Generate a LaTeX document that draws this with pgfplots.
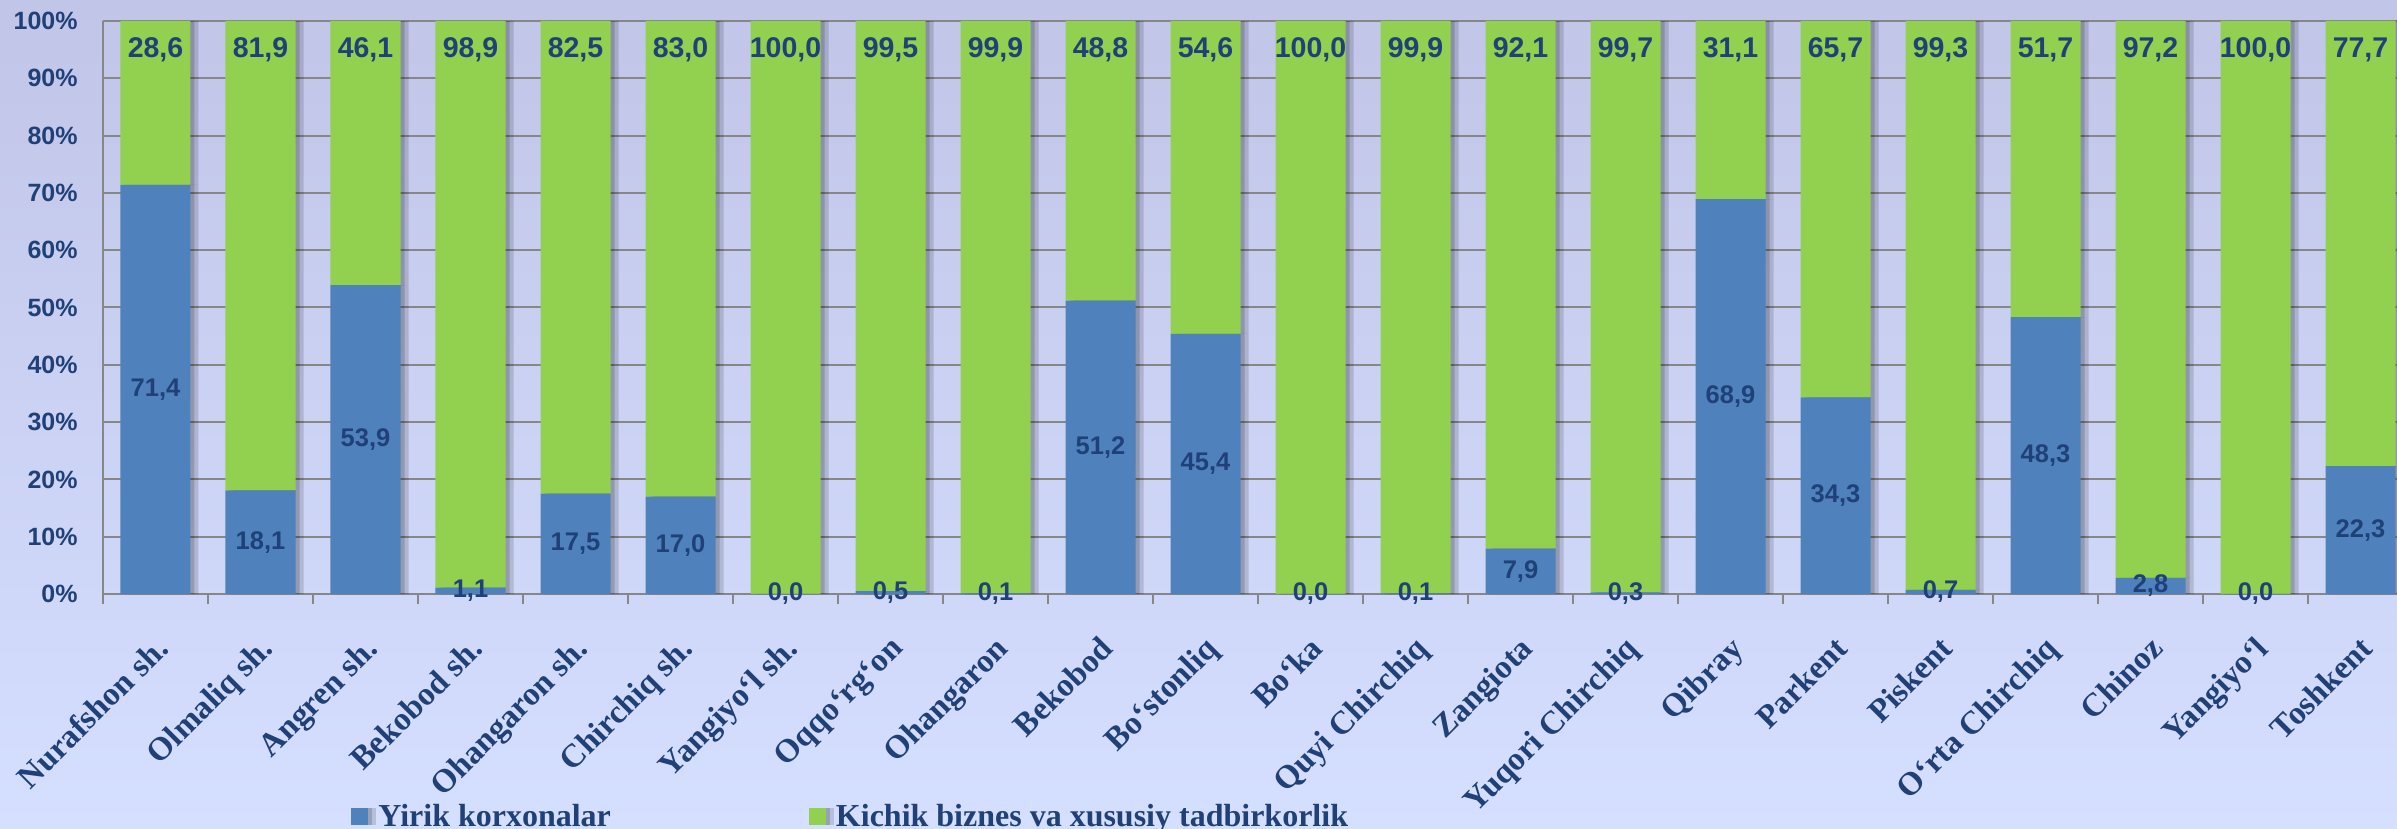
\documentclass[border=0pt]{standalone}
\usepackage{fontspec}
\setmainfont{Liberation Serif}
\newfontfamily\lsans{Liberation Sans}
\usepackage{pgfplots}
\pgfplotsset{compat=1.18}
\definecolor{barblue}{HTML}{4F81BD}
\definecolor{bargreen}{HTML}{92D050}
\definecolor{txtblue}{HTML}{1F4178}
\definecolor{gridgray}{HTML}{878787}
\definecolor{bgtop}{HTML}{C1C5E8}
\definecolor{bgbot}{HTML}{D5DFFF}

\begin{document}
\begin{tikzpicture}
\shade[top color=bgtop, bottom color=bgbot] (-51.5pt,-117.5pt) rectangle (1147pt,297pt);
\begin{axis}[
  at={(0,0)}, anchor=south west,
  scale only axis, width=1147pt, height=286.5pt,
  ybar stacked, bar width=35pt,
  xmin=-0.5, xmax=21.348, ymin=0, ymax=100,
  axis x line*=bottom, axis y line*=left,
  axis line style={gridgray, line width=1pt},
  ymajorgrids, major grid style={gridgray, line width=1pt},
  tick align=outside, major tick length=0pt, minor tick length=5pt,
  minor tick style={gridgray, line width=1pt},
  xtick={0,...,21},
  minor xtick={-0.5,0.5,...,21.5},
  xticklabels={Nurafshon sh., Olmaliq sh., Angren sh., Bekobod sh., Ohangaron sh., Chirchiq sh., Yangiyo‘l sh., Oqqo‘rg‘on, Ohangaron, Bekobod, Bo‘stonliq, Bo‘ka, Quyi Chirchiq, Zangiota, Yuqori Chirchiq, Qibray, Parkent, Piskent, O‘rta Chirchiq, Chinoz, Yangiyo‘l, Toshkent},
  xticklabel style={font=\bfseries\fontsize{16.4}{18}\selectfont, text=txtblue,
    anchor=north east, inner sep=0pt, xshift=-1pt, yshift=-20pt, rotate=45},
  ytick={0,10,...,100},
  /pgf/number format/assume math mode=true,
  yticklabel={\pgfmathprintnumber{\tick}\%},
  yticklabel style={font=\lsans\bfseries\fontsize{12.5}{14}\selectfont, text=txtblue,
    anchor=east, inner sep=0pt, xshift=-12.5pt},
  legend style={at={(0.1081,-0.389)}, anchor=west, legend columns=2,
    draw=none, fill=none, inner sep=0pt,
    /tikz/every even column/.append style={column sep=97pt},
    font=\bfseries\fontsize{16}{18}\selectfont, text=txtblue},
  legend cell align=left,
  to top/.style={/utils/exec={\pgfkeys{/pgf/fpu=true,/pgf/fpu/output format=fixed}%
      \pgfmathsetmacro\upshift{\pgfplotspointmeta*1.4325-14.5}%
      \pgfkeys{/pgf/fpu=false}}},
  bar shadow/.style={
    preaction={fill=black, fill opacity=0.14, draw=none, transform canvas={xshift=4pt}},
    preaction={fill=black, fill opacity=0.16, draw=none, transform canvas={xshift=2pt}}},
]
\addplot[fill=barblue, draw=none, bar shadow,
  legend image code/.code={\fill[barblue] (0pt,-4.25pt) rectangle (8.5pt,4.25pt); \path (11.5pt,0pt);},
  point meta=rawy,
  nodes near coords={\pgfmathprintnumber[fixed,fixed zerofill,precision=1,use comma]{\pgfplotspointmeta}},
  every node near coord/.append style={font=\lsans\bfseries\fontsize{12.75}{14}\selectfont,
    text=txtblue, anchor=center},
] coordinates {
(0,71.4) (1,18.1) (2,53.9) (3,1.1) (4,17.5) (5,17.0) (6,0.01) (7,0.5) (8,0.1) (9,51.2) (10,45.4)
(11,0.01) (12,0.1) (13,7.9) (14,0.3) (15,68.9) (16,34.3) (17,0.7) (18,48.3) (19,2.8) (20,0.01) (21,22.3)
};
\addplot[fill=bargreen, draw=none, bar shadow,
  legend image code/.code={\fill[bargreen] (0pt,-4.25pt) rectangle (8.5pt,4.25pt); \path (11.5pt,0pt);},
  point meta=rawy,
  nodes near coords={\pgfmathprintnumber[fixed,fixed zerofill,precision=1,use comma]{\pgfplotspointmeta}},
  every node near coord/.append style={font=\lsans\bfseries\fontsize{14.25}{16}\selectfont,
    text=txtblue, anchor=center, /pgfplots/to top, yshift=\upshift pt},
] coordinates {
(0,28.6) (1,81.9) (2,46.1) (3,98.9) (4,82.5) (5,83.0) (6,99.99) (7,99.5) (8,99.9) (9,48.8) (10,54.6)
(11,99.99) (12,99.9) (13,92.1) (14,99.7) (15,31.1) (16,65.7) (17,99.3) (18,51.7) (19,97.2) (20,99.99) (21,77.7)
};
\legend{Yirik korxonalar, Kichik biznes va xususiy tadbirkorlik}
\end{axis}
\pgfresetboundingbox
\useasboundingbox (-51.5pt,-117.5pt) rectangle (1147pt,297pt);
\end{tikzpicture}
\end{document}
